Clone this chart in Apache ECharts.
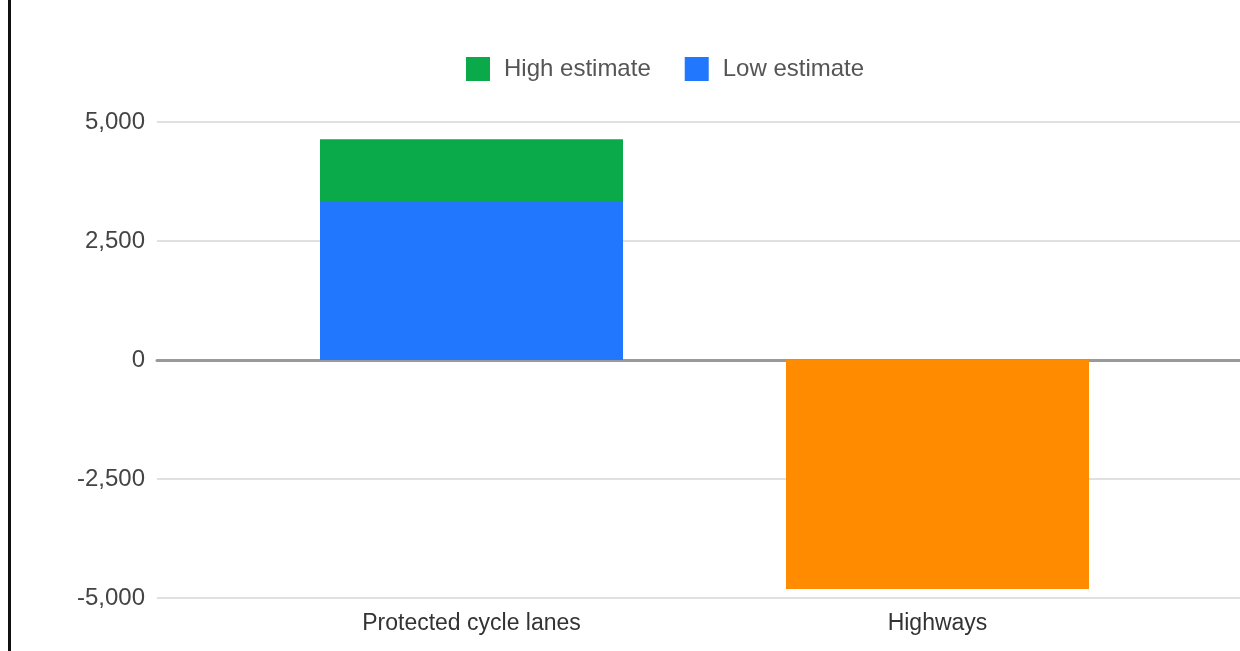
<!DOCTYPE html>
<html>
<head>
<meta charset="utf-8">
<style>
  html, body { margin: 0; padding: 0; background: #fff; }
  #chart { width: 1240px; height: 651px; }
</style>
<script src="https://cdn.jsdelivr.net/npm/echarts@6/dist/echarts.min.js"></script>
</head>
<body>
<div id="chart"></div>
<script>
const categories = ['Protected cycle lanes', 'Highways'];
const highEstimate = [4640, 0];
const lowEstimate = [3320, -4810];
const yTicks = [-5000, -2500, 0, 2500, 5000];

const colorHigh = '#0aaa4b';
const colorLow = '#2277ff';
const colorHighways = '#ff8c00';

const chart = echarts.init(document.getElementById('chart'));
const yMin = yTicks[0], yMax = yTicks[yTicks.length - 1], yStep = yTicks[1] - yTicks[0];

const option = {
  animation: false,
  backgroundColor: '#ffffff',
  graphic: [{
    type: 'rect', left: 8, top: 0,
    shape: { width: 3, height: 651 },
    style: { fill: '#111' }, silent: true
  }],
  legend: {
    left: 461, top: 52,
    itemWidth: 24, itemHeight: 24, itemGap: 34,
    icon: 'rect',
    data: ['High estimate', 'Low estimate'],
    textStyle: { fontSize: 24, color: '#555', fontFamily: 'Liberation Sans, Arial, sans-serif', padding: [0, 0, 0, 9] }
  },
  grid: [
    { left: 157, right: 0, top: 122, bottom: 53 },
    { left: 238.5, width: 932, top: 122, bottom: 53 }
  ],
  xAxis: [
    {
      type: 'category', gridIndex: 0, data: categories,
      axisLine: { show: true, onZero: true, lineStyle: { color: '#999', width: 3 } },
      axisTick: { show: false }, axisLabel: { show: false }, splitLine: { show: false }
    },
    {
      type: 'category', gridIndex: 1, data: categories, position: 'bottom',
      axisLine: { show: false, onZero: false }, axisTick: { show: false },
      axisLabel: { margin: 14, fontSize: 23, color: '#333', fontFamily: 'Liberation Sans, Arial, sans-serif' }
    }
  ],
  yAxis: [
    {
      type: 'value', gridIndex: 0, min: yMin, max: yMax, interval: yStep,
      axisLine: { show: false }, axisTick: { show: false },
      axisLabel: {
        margin: 12, fontSize: 24, color: '#444', fontFamily: 'Liberation Sans, Arial, sans-serif',
        padding: [3, 0, 0, 0],
        formatter: v => v.toLocaleString('en-US')
      },
      splitLine: { lineStyle: { color: '#e0e0e0', width: 2 } }
    },
    {
      type: 'value', gridIndex: 1, min: yMin, max: yMax, interval: yStep,
      show: false, splitLine: { show: false }
    }
  ],
  series: [
    {
      name: 'High estimate', type: 'bar', xAxisIndex: 1, yAxisIndex: 1,
      barWidth: 303, barGap: '-100%',
      itemStyle: { color: colorHigh },
      data: highEstimate
    },
    {
      name: 'Low estimate', type: 'bar', xAxisIndex: 1, yAxisIndex: 1,
      barWidth: 303, barGap: '-100%',
      itemStyle: { color: colorLow },
      data: lowEstimate.map((v, i) => categories[i] === 'Highways'
        ? { value: v, itemStyle: { color: colorHighways } } : v)
    }
  ]
};
chart.setOption(option);
</script>
</body>
</html>
